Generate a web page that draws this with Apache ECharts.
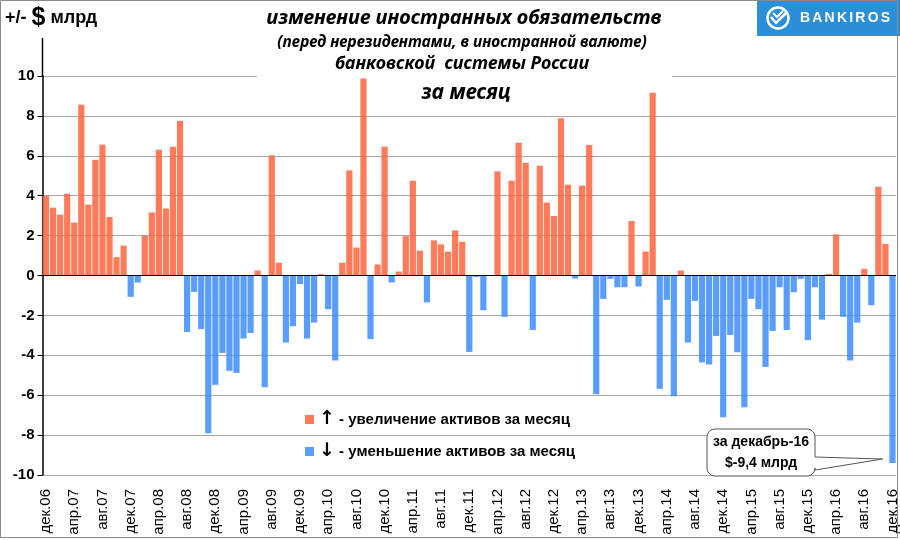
<!DOCTYPE html>
<html><head><meta charset="utf-8">
<script src="https://cdn.jsdelivr.net/npm/echarts@6.0.0/dist/echarts.min.js"></script>
<style>html,body{margin:0;padding:0;background:#fff}#c{width:900px;height:540px}</style>
</head><body><div id="c"></div>
<script>
// ---- data ----
const monthNames = ['янв','фев','мар','апр','май','июн','июл','авг','сен','окт','ноя','дек'];
const firstYear = 2006, firstMonthIndex = 11, monthCount = 121;
const categories = [];
for (let i = 0; i < monthCount; i++) {
  const m = (firstMonthIndex + i) % 12;
  const y = firstYear + Math.floor((firstMonthIndex + i) / 12);
  categories.push(monthNames[m] + '.' + String(y % 100).padStart(2, '0'));
}
// monthly change, $ bn (дек.06 ... дек.16)
const change = [
  4.0, 3.4, 3.05, 4.1, 2.65, 8.56, 3.55, 5.8, 6.55, 2.93, 0.92, 1.5,
  -1.07, -0.35, 2.0, 3.16, 6.3, 3.36, 6.45, 7.74, -2.83, -0.82, -2.69, -7.91,
  -5.48, -3.88, -4.78, -4.88, -3.16, -2.88, 0.25, -5.6, 6.02, 0.64, -3.36, -2.54,
  -0.43, -3.16, -2.36, 0.07, -1.69, -4.26, 0.64, 5.27, 1.4, 9.88, -3.19, 0.55,
  6.45, -0.35, 0.2, 1.97, 4.75, 1.25, -1.35, 1.76, 1.56, 1.2, 2.26, 1.69,
  -3.83, -0.07, -1.74, 0, 5.22, -2.07, 4.75, 6.66, 5.65, -2.73, 5.5, 3.65,
  2.98, 7.88, 4.55, -0.15, 4.5, 6.54, -5.95, -1.17, -0.17, -0.59, -0.59, 2.73,
  -0.55, 1.2, 9.16, -5.68, -1.22, -6.05, 0.25, -3.36, -1.27, -4.36, -4.46, -3.03,
  -7.11, -2.98, -3.85, -6.61, -1.17, -1.69, -4.58, -2.78, -0.59, -2.73, -0.84, -0.17,
  -3.24, -0.59, -2.21, 0.08, 2.06, -2.07, -4.26, -2.36, 0.33, -1.49, 4.45, 1.59,
  -9.4
];
const increase = change.map(v => v > 0 ? v : null);
const decrease = change.map(v => v < 0 ? v : null);
const seriesNames = ['увеличение', 'уменьшение'];
const legendArrows = {'увеличение': '↑', 'уменьшение': '↓'};
const legendSuffix = ' активов за месяц';
const yMin = -10, yMax = 10, yStep = 2;
const titleLines = ['изменение иностранных обязательств', '(перед нерезидентами, в иностранной валюте)', 'банковской  системы России', 'за месяц'];
const calloutLines = ['за декабрь-16', '$-9,4 млрд'];
const logoText = 'BANKIROS';

// ---- chart ----
const chart = echarts.init(document.getElementById('c'), null, {renderer: 'canvas'});
const FONT = 'Liberation Sans';
const TFONT = 'Noto Sans';

const option = {
  animation: false,
  backgroundColor: '#fff',
  textStyle: {fontFamily: FONT},
  grid: {left: 42.5, right: 3.5, top: 76, bottom: 65},
  legend: {
    orient: 'vertical', left: 300, top: 405, itemWidth: 9, itemHeight: 9, itemGap: 13,
    icon: 'rect', data: seriesNames,
    formatter: n => '{ar|' + legendArrows[n] + '}{t| - ' + n + legendSuffix + '}',
    textStyle: {
      color: '#000', fontFamily: FONT,
      rich: {
        ar: {fontSize: 19, fontWeight: 'bold', color: '#000', fontFamily: 'DejaVu Sans'},
        t: {fontSize: 15, fontWeight: 'bold', color: '#000', fontFamily: FONT}
      }
    }
  },
  xAxis: {
    type: 'category', data: categories, boundaryGap: true,
    axisLine: {show: false}, axisTick: {show: false},
    axisLabel: {interval: 3, rotate: 90, fontSize: 15, color: '#000', margin: 14, fontFamily: FONT}
  },
  yAxis: {
    type: 'value', min: yMin, max: yMax, interval: yStep,
    axisLine: {show: true, lineStyle: {color: '#000', width: 1.5}},
    axisTick: {show: true, length: 5, lineStyle: {color: '#000'}},
    axisLabel: {fontSize: 15, fontWeight: 'bold', color: '#000', margin: 8, fontFamily: FONT},
    splitLine: {lineStyle: {color: '#a8a8a8', width: 1}}
  },
  series: [
    {
      name: seriesNames[0], type: 'bar', stack: 'm', data: increase, barCategoryGap: '12%',
      itemStyle: {color: '#ff643c', opacity: 0.85}, z: 3,
      markLine: {silent: true, symbol: 'none', label: {show: false},
        lineStyle: {color: '#000', type: 'solid', width: 1}, data: [{yAxis: 0}]}
    },
    {
      name: seriesNames[1], type: 'bar', stack: 'm', data: decrease, barCategoryGap: '12%',
      itemStyle: {color: '#3c8cff', opacity: 0.85}, z: 3
    }
  ]
};
chart.setOption(option);

// annotation anchored at last bar
const tip = chart.convertToPixel({xAxisIndex: 0, yAxisIndex: 0}, [categories[monthCount - 1], change[monthCount - 1]]);
const tx = tip[0] - 10, ty = tip[1] - 4;
const L = 707, T = 429, R = 815, B = 476, r = 8;
function arc(cx, cy, a0, a1, pts) {
  for (let k = 0; k <= 6; k++) {
    const a = a0 + (a1 - a0) * k / 6;
    pts.push([cx + r * Math.cos(a), cy + r * Math.sin(a)]);
  }
}
const pts = [];
arc(R - r, T + r, -Math.PI / 2, 0, pts);
pts.push([R, 457], [tx, ty], [R, 470]);
arc(R - r, B - r, 0, Math.PI / 2, pts);
arc(L + r, B - r, Math.PI / 2, Math.PI, pts);
arc(L + r, T + r, Math.PI, Math.PI * 1.5, pts);

const axisTop = chart.convertToPixel({yAxisIndex: 0}, yMax);
const axisX = 42.5;

const graphics = [
  {type: 'rect', z: 1, shape: {x: 257, y: 70, width: 415, height: 8}, style: {fill: '#fff'}, silent: true},
  {type: 'line', z: 5, shape: {x1: axisX, y1: 38, x2: axisX, y2: axisTop}, style: {stroke: '#000', lineWidth: 1.5}},
  {type: 'text', z: 10, x: 5, y: 6, style: {
    text: '{a|+/- }{b|$}{a| млрд}', fill: '#000',
    rich: {a: {fontSize: 18, fontWeight: 'bold', fontFamily: FONT, fill: '#000'}, b: {fontSize: 25, fontWeight: 'bold', fontFamily: FONT, fill: '#000'}}
  }},
  {type: 'text', z: 10, x: 464, y: 18, style: {text: titleLines[0], font: 'italic bold 20px "' + TFONT + '"', fill: '#000', align: 'center', verticalAlign: 'middle'}},
  {type: 'text', z: 10, x: 462, y: 43, style: {text: titleLines[1], font: 'italic bold 15.5px "' + TFONT + '"', fill: '#000', align: 'center', verticalAlign: 'middle'}},
  {type: 'text', z: 10, x: 462, y: 64, style: {text: titleLines[2], font: 'italic bold 18px "' + TFONT + '"', fill: '#000', align: 'center', verticalAlign: 'middle'}},
  {type: 'text', z: 10, x: 466, y: 93, style: {text: titleLines[3], font: 'italic bold 21px "' + TFONT + '"', fill: '#000', align: 'center', verticalAlign: 'middle'}},
  {type: 'rect', z: 10, shape: {x: 757, y: 0, width: 143, height: 36}, style: {fill: '#2a8fd9'}},
  {type: 'circle', z: 11, shape: {cx: 778, cy: 18, r: 10.5}, style: {fill: 'none', stroke: '#fff', lineWidth: 2.5}},
  {type: 'polyline', z: 11, shape: {points: [[771, 17], [776, 23], [787, 12]]}, style: {stroke: '#fff', lineWidth: 2.5, fill: 'none'}},
  {type: 'polyline', z: 11, shape: {points: [[773, 13], [777, 17], [783, 11]]}, style: {stroke: '#fff', lineWidth: 2, fill: 'none'}},
  {type: 'polygon', z: 20, shape: {points: pts}, style: {fill: '#fff', stroke: '#555', lineWidth: 1}},
  {type: 'text', z: 21, x: (L + R) / 2, y: 442, style: {text: calloutLines[0], font: 'bold 14px "' + FONT + '"', fill: '#000', align: 'center', verticalAlign: 'middle'}},
  {type: 'text', z: 21, x: (L + R) / 2, y: 463, style: {text: calloutLines[1], font: 'bold 14px "' + FONT + '"', fill: '#000', align: 'center', verticalAlign: 'middle'}},
  {type: 'rect', z: 30, shape: {x: 0.5, y: 0.5, width: 897, height: 537}, style: {fill: 'none', stroke: '#8a8a8a', lineWidth: 1}, silent: true}
];
// logo letters with letter spacing
const logoFont = 'bold 14px "' + FONT + '"';
const ctx = document.createElement('canvas').getContext('2d');
ctx.font = logoFont;
let lx = 800;
for (let i = 0; i < logoText.length; i++) {
  graphics.push({type: 'text', z: 11, x: lx, y: 18, style: {text: logoText[i], font: logoFont, fill: '#fff', align: 'left', verticalAlign: 'middle'}});
  lx += ctx.measureText(logoText[i]).width + 2.2;
}
chart.setOption({graphic: graphics});
</script>
</body></html>
